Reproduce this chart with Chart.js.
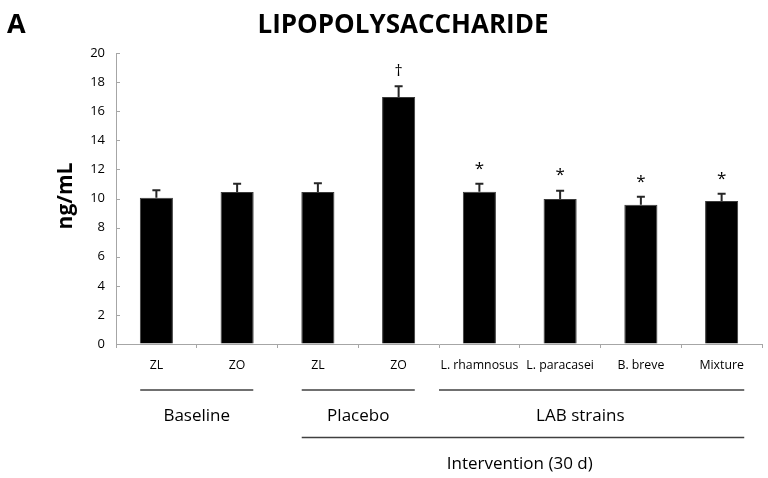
<!DOCTYPE html>
<html>
<head>
<meta charset="utf-8">
<script src="https://cdn.jsdelivr.net/npm/chart.js@4/dist/chart.umd.min.js"></script>
<style>
  html, body { margin: 0; padding: 0; background: #fff; }
  #wrap { width: 768px; height: 478px; }
</style>
</head>
<body>
<div id="wrap"><canvas id="lps" width="768" height="478"></canvas></div>
<script>
// data
var categories = ['ZL', 'ZO', 'ZL', 'ZO', 'L. rhamnosus', 'L. paracasei', 'B. breve', 'Mixture'];
var means = [10.05, 10.45, 10.45, 16.98, 10.47, 9.97, 9.57, 9.82];
var sems = [0.52, 0.57, 0.6, 0.73, 0.54, 0.57, 0.55, 0.5];
var marks = ['', '', '', '\u2020', '*', '*', '*', '*'];
var yTicks = [0, 2, 4, 6, 8, 10, 12, 14, 16, 18, 20];

// group brackets under the axis (category index spans)
var groupLabels = ['Baseline', 'Placebo', 'LAB strains'];
var groupSpans = [[-0.2, 1.2], [1.8, 3.2], [3.5, 7.28]];
var groupTextAt = [0.5, 2.5, 5.25];
var outerLabel = 'Intervention (30 d)';
var outerSpan = [1.8, 7.28];
var outerTextAt = 4.5;

var FONT = '"Open Sans", "DejaVu Sans", sans-serif';
var axisGrey = '#a6a6a6';

var extras = {
  id: 'extras',
  afterDatasetsDraw: function(chart) {
    var ctx = chart.ctx;
    var x = chart.scales.x, y = chart.scales.y;
    ctx.save();

    // inside tick marks on the value axis
    ctx.strokeStyle = axisGrey;
    ctx.lineWidth = 1;
    yTicks.forEach(function(v) {
      var py = Math.round(y.getPixelForValue(v)) + 0.5;
      ctx.beginPath();
      ctx.moveTo(x.left, py);
      ctx.lineTo(x.left + 4, py);
      ctx.stroke();
    });

    // error bars (upper only) and significance marks
    ctx.strokeStyle = '#262626';
    ctx.lineWidth = 2;
    ctx.fillStyle = '#000';
    ctx.textAlign = 'center';
    ctx.textBaseline = 'middle';
    means.forEach(function(m, i) {
      var cx = x.getPixelForValue(i);
      var top = y.getPixelForValue(m + sems[i]);
      var base = y.getPixelForValue(m);
      ctx.beginPath();
      ctx.moveTo(cx, base);
      ctx.lineTo(cx, top);
      ctx.moveTo(cx - 4, top);
      ctx.lineTo(cx + 4, top);
      ctx.stroke();
      if (marks[i] === '*') {
        ctx.font = '17px ' + FONT;
        ctx.fillText('*', cx, top - 15);
      } else if (marks[i]) {
        ctx.font = '16px ' + FONT;
        ctx.fillText(marks[i], cx, top - 15);
      }
    });

    // group brackets
    var step = x.getPixelForValue(1) - x.getPixelForValue(0);
    function px(idx) { return x.getPixelForValue(0) + idx * step; }
    ctx.strokeStyle = '#404040';
    ctx.lineWidth = 1.5;
    ctx.font = '17px ' + FONT;
    groupLabels.forEach(function(lbl, i) {
      ctx.beginPath();
      ctx.moveTo(px(groupSpans[i][0]), 390);
      ctx.lineTo(px(groupSpans[i][1]), 390);
      ctx.stroke();
      ctx.fillText(lbl, px(groupTextAt[i]), 416);
    });
    ctx.beginPath();
    ctx.moveTo(px(outerSpan[0]), 437.5);
    ctx.lineTo(px(outerSpan[1]), 437.5);
    ctx.stroke();
    ctx.fillText(outerLabel, px(outerTextAt), 464);

    // titles
    ctx.font = 'bold 26px ' + FONT;
    ctx.textBaseline = 'alphabetic';
    ctx.fillText('LIPOPOLYSACCHARIDE', 403, 33);
    ctx.textAlign = 'left';
    ctx.font = 'bold 27px ' + FONT;
    ctx.fillText('A', 7, 33);

    ctx.translate(66, 196);
    ctx.rotate(-Math.PI / 2);
    ctx.textAlign = 'center';
    ctx.textBaseline = 'middle';
    ctx.font = 'bold 21px ' + FONT;
    ctx.fillText('ng/mL', 0, 0);
    ctx.restore();
  }
};

var ctx = document.getElementById('lps').getContext('2d');
var lpsChart = new Chart(ctx, {
  type: 'bar',
  data: {
    labels: categories,
    datasets: [{
      data: means,
      backgroundColor: '#000',
      borderColor: '#3a3a3a',
      borderWidth: 1,
      categoryPercentage: 1,
      barPercentage: 0.41
    }]
  },
  options: {
    responsive: false,
    animation: false,
    layout: { padding: { top: 53, right: 6, left: 0, bottom: 0 } },
    plugins: { legend: { display: false }, tooltip: { enabled: false } },
    scales: {
      x: {
        grid: { drawOnChartArea: false, tickLength: 4, color: axisGrey },
        border: { color: axisGrey },
        ticks: { color: '#000', font: { family: FONT, size: 12.3 }, padding: 10, maxRotation: 0, autoSkip: false },
        afterFit: function(s) { s.height = 134; }
      },
      y: {
        min: 0,
        max: 20,
        grid: { drawOnChartArea: false, drawTicks: false, color: axisGrey },
        border: { color: axisGrey },
        ticks: { stepSize: 2, color: '#000', font: { family: FONT, size: 13 }, padding: 11 },
        afterFit: function(s) { s.width = 116; }
      }
    }
  },
  plugins: [extras]
});
</script>
</body>
</html>
